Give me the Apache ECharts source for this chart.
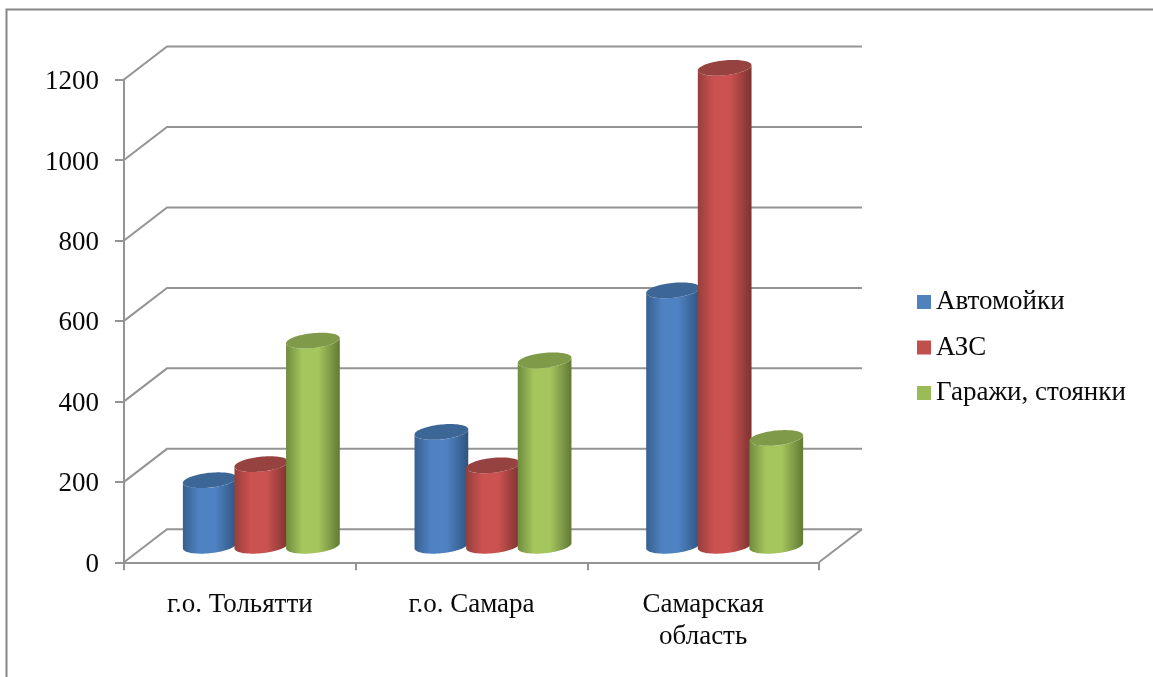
<!DOCTYPE html>
<html>
<head>
<meta charset="utf-8">
<style>html,body{margin:0;padding:0;background:#fff}#chart{width:1153px;height:677px}</style>
<script src="https://cdn.jsdelivr.net/npm/echarts@6/dist/echarts.min.js"></script>
</head>
<body>
<div id="chart"></div>
<script>
// Chart data
const categories = ['г.о. Тольятти', 'г.о. Самара', 'Самарская\nобласть'];
const carWashes = [163, 283, 635];
const fuelStations = [203, 200, 1188];
const garages = [510, 461, 268];
const valueTicks = [0, 200, 400, 600, 800, 1000, 1200];
const seriesNames = ['Автомойки', 'АЗС', 'Гаражи, стоянки'];

// Styling of the pseudo-3D box and cylinders
const FONT = '"Liberation Serif", serif';
const GREY = '#949494';
const TEXT = '#0a0a0a';
const DEPTH = { x: 43, y: -33 };
const CYL = { step: 51.6, a: 27, b: 7.4, tilt: -6 * Math.PI / 180 };
const palettes = [
  { base: '#4f81bd', edgeL: '#37608f', edgeR: '#2f547f', mid: '#4f82c3', top: '#3c6695' },
  { base: '#c0504d', edgeL: '#963f3d', edgeR: '#7c3331', mid: '#cb5250', top: '#964240' },
  { base: '#9bbb59', edgeL: '#6f8c3d', edgeR: '#617a35', mid: '#a5c55d', top: '#7f9a49' }
];

const ellipsePoint = (cx, cy, t) => {
  const c = Math.cos(CYL.tilt), s = Math.sin(CYL.tilt);
  const ca = Math.cos(t) * CYL.a, sb = Math.sin(t) * CYL.b;
  return [cx + ca * c - sb * s, cy + ca * s + sb * c];
};

// Back wall gridlines, side wall diagonals and the floor edge
function renderWall(params, api) {
  const v = api.value(1);
  const y = api.coord([0, v])[1];
  const sys = params.coordSys;
  const x0 = sys.x, x1 = sys.x + sys.width;
  const children = [{
    type: 'polyline',
    shape: { points: [[x0, y], [x0 + DEPTH.x, y + DEPTH.y], [x1 + DEPTH.x, y + DEPTH.y]] },
    style: { stroke: GREY, lineWidth: 2, fill: 'none' }
  }];
  if (v === 0) {
    children.push({
      type: 'line',
      shape: { x1: x1, y1: y, x2: x1 + DEPTH.x, y2: y + DEPTH.y },
      style: { stroke: GREY, lineWidth: 2 }
    });
  }
  return { type: 'group', children };
}

// One cylinder standing in the middle of the floor depth
function renderCylinder(index) {
  const pal = palettes[index];
  return function (params, api) {
    const cat = api.value(0);
    const topPt = api.coord([cat, api.value(1)]);
    const basePt = api.coord([cat, 0]);
    const cx = basePt[0] + DEPTH.x / 2 + (index - 1) * CYL.step;
    const yTop = topPt[1] + DEPTH.y / 2;
    const yBase = basePt[1] + DEPTH.y / 2;
    const t0 = Math.atan2(-CYL.b * Math.sin(CYL.tilt), CYL.a * Math.cos(CYL.tilt));
    const body = [];
    const N = 40;
    for (let i = 0; i <= N; i++) body.push(ellipsePoint(cx, yBase, t0 + Math.PI * i / N));
    for (let i = 0; i <= N; i++) body.push(ellipsePoint(cx, yTop, t0 + Math.PI - Math.PI * i / N));
    const lid = [];
    for (let i = 0; i < 2 * N; i++) lid.push(ellipsePoint(cx, yTop, Math.PI * i / N));
    return {
      type: 'group',
      children: [{
        type: 'polygon',
        shape: { points: body },
        style: {
          fill: {
            type: 'linear', x: 0, y: 0, x2: 1, y2: 0,
            colorStops: [
              { offset: 0, color: pal.edgeL },
              { offset: 0.3, color: pal.mid },
              { offset: 0.6, color: pal.mid },
              { offset: 1, color: pal.edgeR }
            ]
          }
        }
      }, {
        type: 'polygon',
        shape: { points: lid },
        style: { fill: pal.top }
      }]
    };
  };
}

const columns = [carWashes, fuelStations, garages];
const cylinderSeries = columns.map((values, i) => ({
  name: seriesNames[i],
  type: 'custom',
  z: 3 + i,
  encode: { x: 0, y: 1 },
  itemStyle: { color: palettes[i].base },
  data: values.map((v, c) => [c, v]),
  renderItem: renderCylinder(i)
}));

const chart = echarts.init(document.getElementById('chart'), null, { renderer: 'canvas' });
chart.setOption({
  animation: false,
  backgroundColor: '#fff',
  grid: { left: 124, right: 334, top: 79.5, bottom: 114.7, containLabel: false },
  graphic: [{
    type: 'polyline',
    shape: { points: [[6.5, 677], [6.5, 9.5], [1153, 9.5]] },
    style: { stroke: '#868686', lineWidth: 2, fill: 'none' },
    silent: true
  }],
  legend: {
    orient: 'vertical',
    left: 917,
    top: 287,
    padding: 0,
    icon: 'rect',
    itemWidth: 14,
    itemHeight: 14,
    itemGap: 15.5,
    data: seriesNames,
    selectedMode: false,
    textStyle: { fontFamily: FONT, fontSize: 27, color: TEXT, lineHeight: 30 }
  },
  xAxis: {
    type: 'category',
    data: categories,
    boundaryGap: true,
    axisLine: { lineStyle: { color: GREY, width: 2 } },
    axisTick: { show: true, alignWithLabel: false, length: 8, lineStyle: { color: GREY, width: 2 } },
    axisLabel: { fontFamily: FONT, fontSize: 27, color: TEXT, lineHeight: 32, margin: 27, interval: 0 },
    splitLine: { show: false }
  },
  yAxis: {
    type: 'value',
    min: 0,
    max: 1200,
    interval: 200,
    axisLine: { show: true, lineStyle: { color: GREY, width: 2 } },
    axisTick: { show: true, length: 9, lineStyle: { color: GREY, width: 2 } },
    axisLabel: {
      fontFamily: FONT, fontSize: 27, color: TEXT, margin: 25,
      verticalAlign: 'top', lineHeight: 27,
      padding: [-11, 0, 0, 0],
      formatter: value => String(value)
    },
    splitLine: { show: false }
  },
  series: [{
    name: 'walls',
    type: 'custom',
    z: 1,
    silent: true,
    encode: { x: 0, y: 1 },
    data: valueTicks.map(v => [0, v]),
    renderItem: renderWall
  }].concat(cylinderSeries)
});
</script>
</body>
</html>
